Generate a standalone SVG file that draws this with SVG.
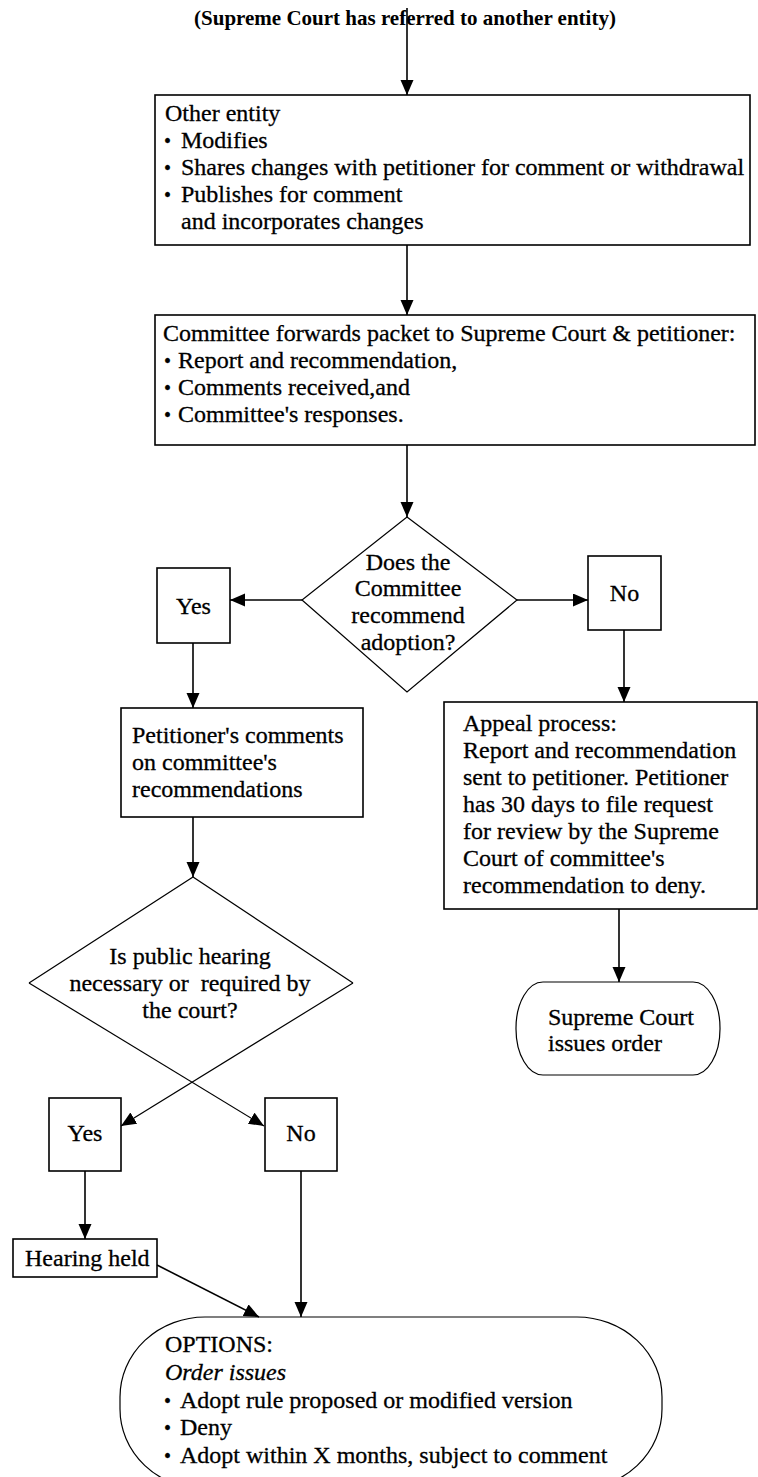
<svg xmlns="http://www.w3.org/2000/svg" width="758" height="1477" viewBox="0 0 758 1477">
<style>
.t{font-family:"Liberation Serif","Times New Roman",serif;font-size:24px;fill:#000;stroke:#000;stroke-width:0.3}
.b{font-size:20px}
.title{font-family:"Liberation Serif","Times New Roman",serif;font-size:21px;font-weight:bold;fill:#000}
.box{fill:#fff;stroke:#000;stroke-width:1.6}
.dia{fill:#fff;stroke:#000;stroke-width:1.2}
.c{fill:none;stroke:#000;stroke-width:1.6}
.cd{fill:none;stroke:#000;stroke-width:1.2}
</style>
<defs>
<marker id="ah" markerUnits="userSpaceOnUse" markerWidth="16" markerHeight="14" refX="15" refY="6.5" orient="auto">
<path d="M0,0 L15,6.5 L0,13 Z" fill="#000"/>
</marker>
</defs>
<rect width="758" height="1477" fill="#fff"/>
<text class="title" x="405" y="25" text-anchor="middle">(Supreme Court has referred to another entity)</text>

<g id="box1">
<rect class="box" x="155" y="95" width="595" height="150"/>
<text class="t" x="165" y="121">Other entity</text>
<text class="t b" x="164" y="148">•</text>
<text class="t" x="181" y="148">Modifies</text>
<text class="t b" x="164" y="175">•</text>
<text class="t" x="181" y="175">Shares changes with petitioner for comment or withdrawal</text>
<text class="t b" x="164" y="202">•</text>
<text class="t" x="181" y="202">Publishes for comment</text>
<text class="t" x="181" y="229">and incorporates changes</text>
</g>

<g id="box2">
<rect class="box" x="155" y="315" width="600" height="130"/>
<text class="t" x="163" y="341">Committee forwards packet to Supreme Court &amp; petitioner:</text>
<text class="t b" x="164" y="368">•</text>
<text class="t" x="178" y="368">Report and recommendation,</text>
<text class="t b" x="164" y="395">•</text>
<text class="t" x="178" y="395">Comments received,and</text>
<text class="t b" x="164" y="422">•</text>
<text class="t" x="178" y="422">Committee's responses.</text>
</g>

<g id="diamond1">
<polygon class="dia" points="407,517 517,600 407,692 302,600"/>
<text class="t" x="408" y="570" text-anchor="middle">Does the</text>
<text class="t" x="408" y="596" text-anchor="middle">Committee</text>
<text class="t" x="408" y="623" text-anchor="middle">recommend</text>
<text class="t" x="408" y="650" text-anchor="middle">adoption?</text>
</g>

<g id="yes1">
<rect class="box" x="157" y="568" width="73" height="75"/>
<text class="t" x="193.5" y="614" text-anchor="middle">Yes</text>
</g>

<g id="no1">
<rect class="box" x="588" y="556" width="73" height="74"/>
<text class="t" x="624.5" y="601" text-anchor="middle">No</text>
</g>

<g id="petitioner">
<rect class="box" x="121" y="708" width="242" height="109"/>
<text class="t" x="132" y="743">Petitioner's comments</text>
<text class="t" x="132" y="770">on committee's</text>
<text class="t" x="132" y="797">recommendations</text>
</g>

<g id="appeal">
<rect class="box" x="444" y="702" width="313" height="207"/>
<text class="t" x="463" y="731">Appeal process:</text>
<text class="t" x="463" y="758">Report and recommendation</text>
<text class="t" x="463" y="785">sent to petitioner. Petitioner</text>
<text class="t" x="463" y="812">has 30 days to file request</text>
<text class="t" x="463" y="839">for review by the Supreme</text>
<text class="t" x="463" y="866">Court of committee's</text>
<text class="t" x="463" y="893">recommendation to deny.</text>
</g>

<g id="order">
<rect class="dia" x="516" y="982" width="204" height="93" rx="27" ry="46"/>
<text class="t" x="548" y="1025">Supreme Court</text>
<text class="t" x="548" y="1051">issues order</text>
</g>

<g id="diamond2">
<polyline class="dia" points="29,983 193,877 353,983" fill="none"/>
<text class="t" x="190" y="964" text-anchor="middle">Is public hearing</text>
<text class="t" x="190" y="991" text-anchor="middle" xml:space="preserve">necessary or  required by</text>
<text class="t" x="190" y="1018" text-anchor="middle">the court?</text>
</g>

<g id="yes2">
<rect class="box" x="49" y="1098" width="72" height="73"/>
<text class="t" x="85" y="1141" text-anchor="middle">Yes</text>
</g>

<g id="no2">
<rect class="box" x="265" y="1098" width="72" height="73"/>
<text class="t" x="301" y="1141" text-anchor="middle">No</text>
</g>

<g id="hearing">
<rect class="box" x="13" y="1239" width="144" height="38"/>
<text class="t" x="25" y="1266">Hearing held</text>
</g>

<g id="options">
<rect class="dia" x="120" y="1317" width="542" height="172" rx="85" ry="80"/>
<text class="t" x="165" y="1352">OPTIONS:</text>
<text class="t" x="165" y="1380" font-style="italic">Order issues</text>
<text class="t b" x="164" y="1408">•</text>
<text class="t" x="180" y="1408">Adopt rule proposed or modified version</text>
<text class="t b" x="164" y="1435">•</text>
<text class="t" x="180" y="1435">Deny</text>
<text class="t b" x="164" y="1463">•</text>
<text class="t" x="180" y="1463">Adopt within X months, subject to comment</text>
</g>

<g id="connectors">
<line class="c" x1="407" y1="8" x2="407" y2="95" marker-end="url(#ah)"/>
<line class="c" x1="407" y1="245" x2="407" y2="315" marker-end="url(#ah)"/>
<line class="c" x1="407" y1="445" x2="407" y2="517" marker-end="url(#ah)"/>
<line class="c" x1="302" y1="600" x2="230" y2="600" marker-end="url(#ah)"/>
<line class="c" x1="517" y1="600" x2="588" y2="600" marker-end="url(#ah)"/>
<line class="c" x1="193" y1="643" x2="193" y2="708" marker-end="url(#ah)"/>
<line class="c" x1="624" y1="630" x2="624" y2="702" marker-end="url(#ah)"/>
<line class="c" x1="619" y1="909" x2="619" y2="982" marker-end="url(#ah)"/>
<line class="c" x1="193" y1="817" x2="193" y2="877" marker-end="url(#ah)"/>
<line class="cd" x1="29" y1="983" x2="264" y2="1126" marker-end="url(#ah)"/>
<line class="cd" x1="353" y1="983" x2="121" y2="1126" marker-end="url(#ah)"/>
<line class="c" x1="85" y1="1171" x2="85" y2="1239" marker-end="url(#ah)"/>
<line class="c" x1="157" y1="1265" x2="259" y2="1317" marker-end="url(#ah)"/>
<line class="c" x1="301" y1="1171" x2="301" y2="1317" marker-end="url(#ah)"/>
</g>
</svg>
